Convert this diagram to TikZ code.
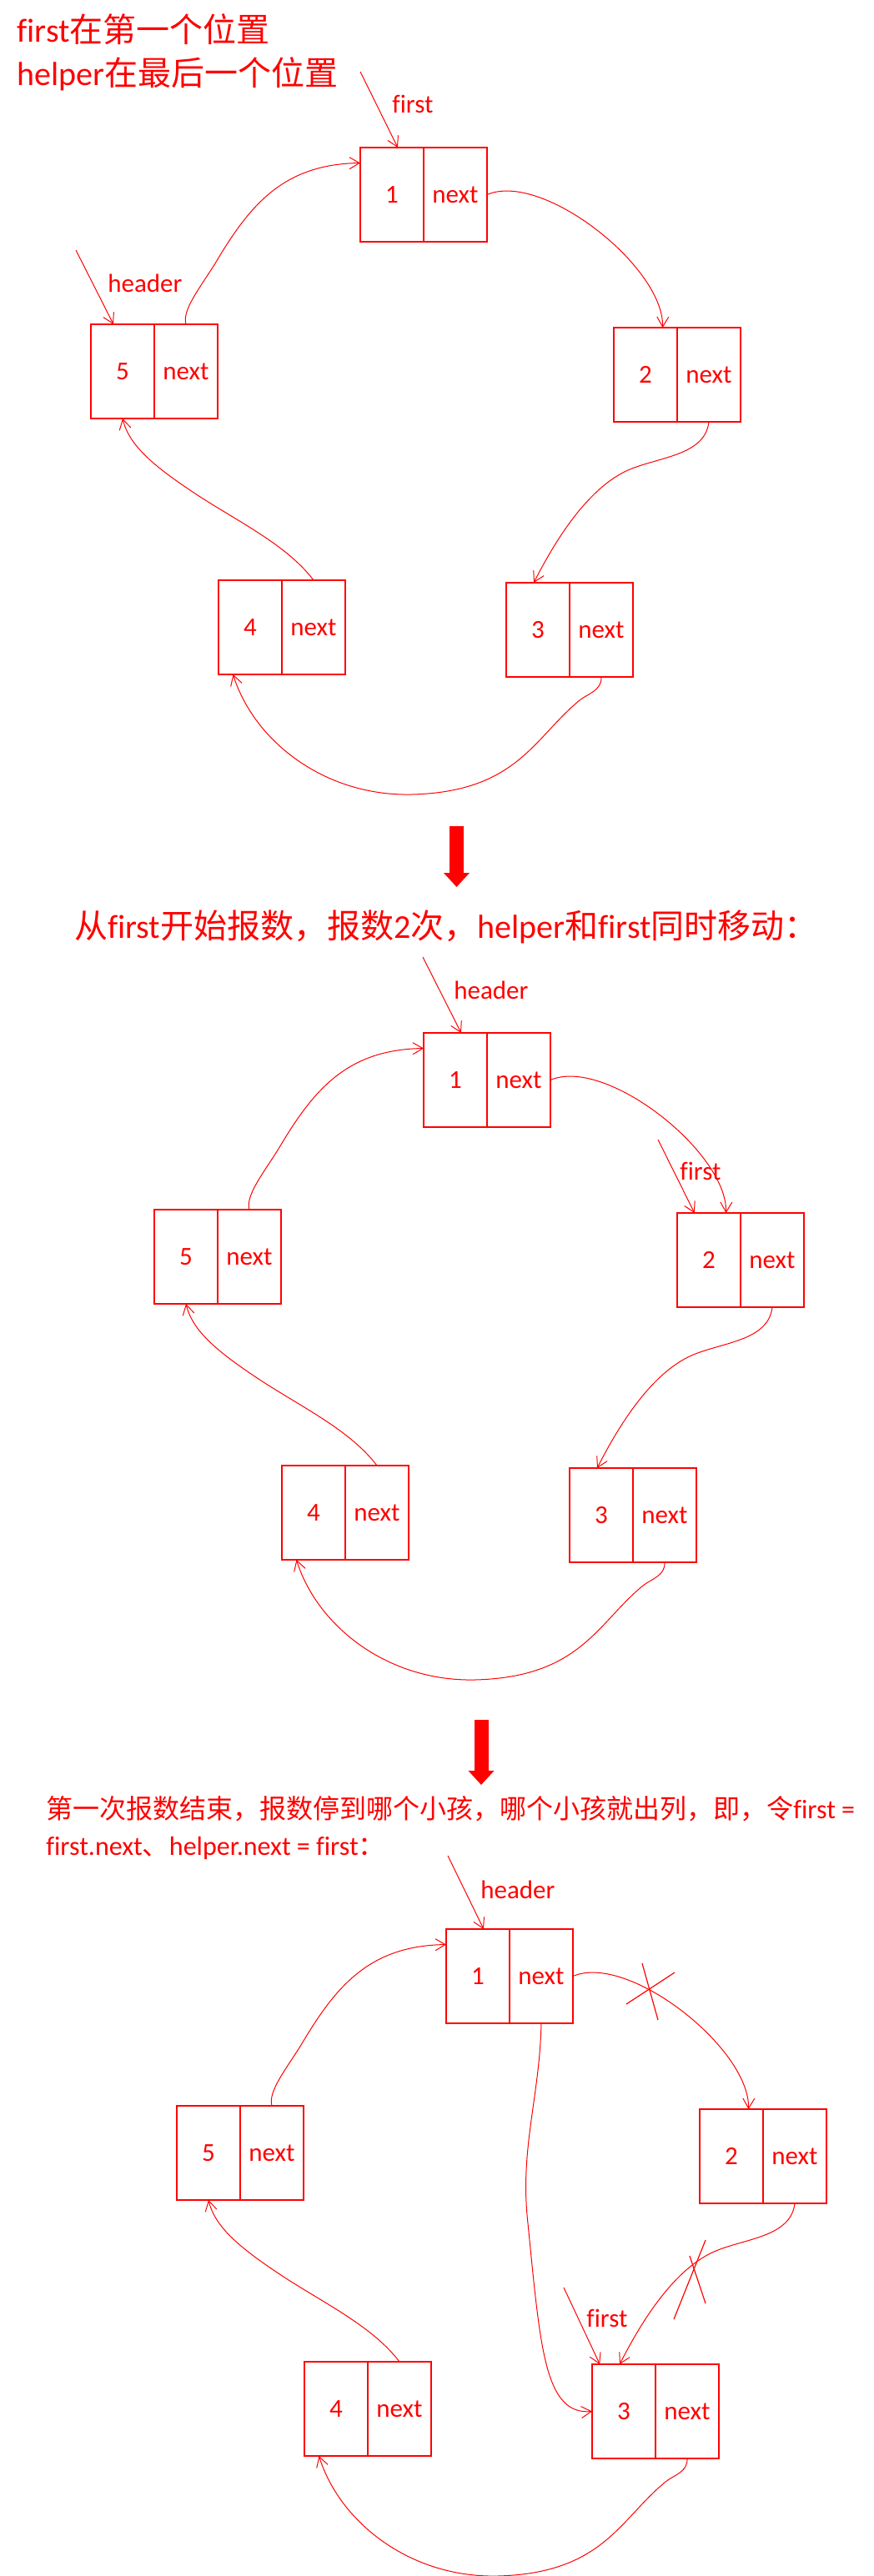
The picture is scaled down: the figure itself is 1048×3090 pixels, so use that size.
\documentclass[tikz,border=0pt]{standalone}
\usepackage{fontspec}
\setmainfont{Carlito}[Ligatures=NoCommon]
\newfontfamily\zh{Noto Sans CJK SC}
\usetikzlibrary{positioning,arrows.meta}
\tikzset{
	numcell/.style={rectangle, draw=red, line width=0.9pt, text=red, inner sep=0pt, outer sep=0pt, minimum width=38pt, minimum height=56.5pt, font=\fontsize{15.5}{18}\selectfont},
	nextcell/.style={numcell},
	link/.style={draw=red, line width=0.5pt, ->},
	tag/.style={text=red, inner sep=0pt, anchor=west, font=\fontsize{15.5}{18}\selectfont},
	title/.style={text=red, inner sep=0pt, align=left, font=\fontsize{20}{26}\selectfont},
	bigarrow/.style={draw=red, line width=8.5pt, -{Triangle[length=8.5pt, width=15pt]}},
	cutmark/.style={draw=red, line width=0.6pt}
}

\begin{document}
\begin{tikzpicture}[x=0.5pt, y=-0.5pt, >={Straight Barb[length=6pt, width=7pt]}]
	\useasboundingbox (0,0) rectangle (1048,3090);

	% titles
	\node[title, anchor=west] at (20,63) (toptitle) {first{\zh 在第一个位置}\\helper{\zh 在最后一个位置}};
	\node[title] at (535,1112) (midtitle) {{\zh 从}first{\zh 开始报数，报数}2{\zh 次，}helper{\zh 和}first{\zh 同时移动：}};
	\node[title, anchor=west, font=\fontsize{16}{22}\selectfont] at (55,2193) (lowtitle) {{\zh 第一次报数结束，报数停到哪个小孩，哪个小孩就出列，即，令}first =\\first.next{\zh 、}helper.next = first{\zh ：}};

	% arrows between the steps
	\coordinate (down1a) at (547.5,991);
	\coordinate (down1b) at (547.5,1064);
	\coordinate (down2a) at (577,2063);
	\coordinate (down2b) at (577,2141);
	\draw[bigarrow] (down1a) -- (down1b);
	\draw[bigarrow] (down2a) -- (down2b);

	% the ring of five children, once per step
	\foreach \pan/\dx/\dy in {a/0/0, b/76/1062, c/103/2137}{
		\begin{scope}[shift={(\dx,\dy)}]
			\foreach \idx/\x/\y in {1/470/233.5, 2/774/449.5, 3/645/755.5, 4/300/752.5, 5/147/445.5}{
				\node[numcell] at (\x,\y) (\pan\idx) {\idx};
				\node[nextcell, right=0pt of \pan\idx] (\pan\idx n) {next};
			}
			\draw[link] (\pan1n.east) .. controls (650,205) and (796,320) .. (\pan2.70);
			\draw[link] (\pan2n.south) .. controls (845,550) and (780,548) .. (745,568) .. controls (705,590) and (670,640) .. (\pan3.95);
			\draw[link] (\pan3n.south) .. controls (722,828) and (705,832) .. (695,840) .. controls (640,885) and (620,950) .. (493,953) .. controls (390,955) and (305,890) .. (\pan4.250);
			\draw[link] (\pan4n.north) .. controls (345,655) and (290,628) .. (240,596) .. controls (185,560) and (155,535) .. (\pan5.south);
			\draw[link] (\pan5n.north) .. controls (218,372) and (240,345) .. (258,316) .. controls (300,245) and (340,197) .. (\pan1.135);
		\end{scope}
	}

	% step 1
	\node[tag] at (470,125) (afirst) {first};
	\coordinate (afirstfrom) at (432,86);
	\draw[link] (afirstfrom) -- (a1.83);
	\node[tag] at (129,340) (aheader) {header};
	\coordinate (aheaderfrom) at (91,300);
	\draw[link] (aheaderfrom) -- (a5.101);

	% step 2
	\begin{scope}[shift={(76,1062)}]
		\node[tag] at (468,126) (bheader) {header};
		\coordinate (bheaderfrom) at (431,86);
		\draw[link] (bheaderfrom) -- (b1.83);
		\node[tag] at (739,343) (bfirst) {first};
		\coordinate (bfirstfrom) at (713,305);
		\draw[link] (bfirstfrom) -- (b2.107);
	\end{scope}

	% step 3
	\begin{scope}[shift={(103,2137)}]
		\node[tag] at (473,130) (cheader) {header};
		\coordinate (cheaderfrom) at (434,89);
		\draw[link] (cheaderfrom) -- (c1.83);
		\node[tag] at (600,644) (cfirst) {first};
		\coordinate (cfirstfrom) at (573,607);
		\draw[link] (cfirstfrom) -- (c3.117);
		\draw[link] (c1n.south) .. controls (544,380) and (520,440) .. (530,530) .. controls (545,680) and (550,760) .. (c3.west);
		\draw[cutmark] (667,218) -- (686,286);
		\draw[cutmark] (648,267) -- (706,229);
		\draw[cutmark] (743,550) -- (705,645);
		\draw[cutmark] (724,569) -- (743,626);
	\end{scope}
\end{tikzpicture}
\end{document}
